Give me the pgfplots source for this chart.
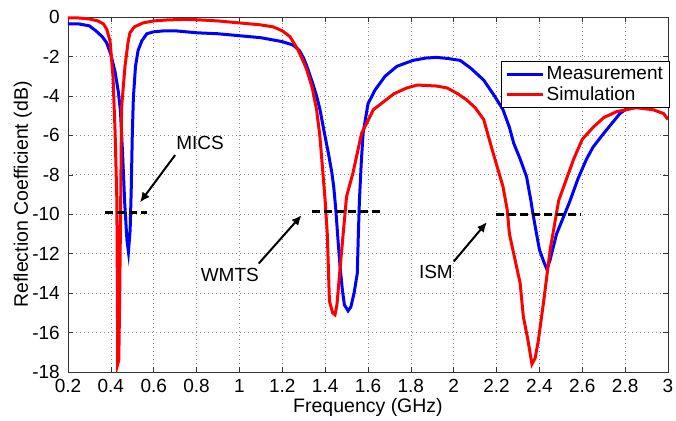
\documentclass[border=0pt]{standalone}
\usepackage{pgfplots}
\pgfplotsset{compat=1.18}
\usepackage{fontspec}
\setmainfont{Liberation Sans}
\usetikzlibrary{arrows.meta}
\newcommand{\fs}[1]{\fontsize{#1}{1.15\dimexpr#1\relax}\selectfont}
\begin{document}
\begin{tikzpicture}
\begin{axis}[
  scale only axis, width=600bp, height=355bp,
  xmin=0.2, xmax=3, ymin=-18, ymax=0,
  xtick={0.2,0.4,0.6,0.8,1,1.2,1.4,1.6,1.8,2,2.2,2.4,2.6,2.8,3},
  xticklabels={0.2,0.4,0.6,0.8,1,1.2,1.4,1.6,1.8,2,2.2,2.4,2.6,2.8,3},
  ytick={-18,-16,-14,-12,-10,-8,-6,-4,-2,0},
  yticklabels={-18,-16,-14,-12,-10,-8,-6,-4,-2,0},
  tick align=inside, xtick pos=both, ytick pos=both,
  major tick length=5bp,
  tick style={black!80, line width=0.5bp},
  axis line style={black!80, line width=0.6bp},
  grid=major,
  major grid style={black!45, line width=0.6bp, dash pattern=on 1bp off 3bp},
  ticklabel style={font=\fs{19bp}, inner sep=1bp},
  /pgf/number format/assume math mode=true,
  xticklabel style={yshift=-6bp},
  yticklabel style={xshift=-7bp},
  xlabel={Frequency (GHz)},
  ylabel={Reflection Coefficient (dB)},
  every axis x label/.style={font=\fs{19.5bp}, at={(rel axis cs:0.5,0)}, anchor=base, yshift=-40bp},
  every axis y label/.style={font=\fs{19.5bp}, at={(rel axis cs:0,0.5)}, xshift=-40bp, rotate=90, anchor=base},
  legend style={at={(rel axis cs:1.002,0.876)}, anchor=north east, draw=black, line width=0.6bp,
    font=\fs{19bp}, inner xsep=4bp, inner ysep=3.5bp, row sep=1.5bp, fill=white},
  legend cell align=left,
  legend image code/.code={\draw[#1] (0bp,0bp) -- (36bp,0bp);},
  clip=true,
]
\addplot[blue, line width=3bp] coordinates {
(0.20,-0.35)(0.25,-0.35)(0.30,-0.45)(0.33,-0.7)(0.36,-1.0)(0.38,-1.3)(0.40,-1.9)
(0.42,-2.8)(0.435,-3.8)(0.445,-4.8)(0.455,-7.0)(0.465,-9.5)(0.475,-11.3)(0.482,-11.9)
(0.49,-10.8)(0.495,-8.8)(0.50,-6.0)(0.505,-4.1)(0.515,-2.5)(0.527,-1.7)(0.545,-1.2)
(0.568,-0.85)(0.60,-0.75)(0.65,-0.7)(0.70,-0.7)(0.80,-0.8)(0.90,-0.85)(1.00,-0.95)
(1.10,-1.05)(1.20,-1.25)(1.25,-1.42)(1.28,-1.7)(1.30,-2.1)(1.315,-2.5)(1.34,-3.3)
(1.36,-4.0)(1.376,-4.7)(1.395,-5.8)(1.415,-6.9)(1.43,-7.8)(1.44,-8.6)(1.45,-9.8)
(1.46,-11.3)(1.47,-12.7)(1.48,-13.8)(1.49,-14.6)(1.507,-14.9)(1.52,-14.7)(1.535,-14.0)
(1.55,-13.0)(1.555,-11.0)(1.56,-9.3)(1.568,-7.5)(1.577,-5.9)(1.60,-4.4)(1.633,-3.7)
(1.68,-3.0)(1.735,-2.5)(1.81,-2.2)(1.87,-2.08)(1.92,-2.05)(1.97,-2.1)(2.03,-2.2)
(2.08,-2.6)(2.14,-3.2)(2.19,-4.0)(2.23,-4.7)(2.26,-5.6)(2.28,-6.4)(2.31,-7.2)
(2.34,-8.1)(2.36,-9.3)(2.37,-10.0)(2.40,-11.8)(2.42,-12.4)(2.435,-12.8)(2.45,-12.3)
(2.48,-11.0)(2.51,-10.2)(2.54,-9.4)(2.58,-8.2)(2.62,-7.2)(2.65,-6.6)(2.70,-5.9)
(2.775,-4.9)(2.85,-4.3)(2.92,-4.0)(3.0,-3.8)
};
\addlegendentry{Measurement}
\addplot[red, line width=3bp] coordinates {
(0.20,-0.05)(0.25,-0.05)(0.30,-0.1)(0.34,-0.2)(0.365,-0.35)(0.38,-0.6)(0.396,-1.2)
(0.41,-3.0)(0.42,-5.9)(0.428,-9.3)(0.43,-13)(0.432,-17.6)(0.437,-17.4)(0.441,-14.4)
(0.446,-9.3)(0.45,-4.6)(0.466,-2.5)(0.48,-1.3)(0.489,-0.8)(0.51,-0.5)(0.55,-0.3)
(0.60,-0.2)(0.66,-0.15)(0.75,-0.12)(0.82,-0.15)(0.90,-0.2)(1.00,-0.3)(1.10,-0.4)
(1.157,-0.5)(1.20,-0.7)(1.236,-1.0)(1.27,-1.6)(1.30,-2.3)(1.315,-2.7)(1.34,-3.6)
(1.36,-4.7)(1.375,-6.0)(1.385,-7.3)(1.40,-9.3)(1.41,-11.0)(1.42,-14.4)(1.435,-15.0)
(1.446,-15.1)(1.455,-14.6)(1.47,-12.7)(1.49,-10.3)(1.50,-9.1)(1.53,-7.9)(1.57,-5.9)
(1.625,-4.7)(1.72,-3.9)(1.78,-3.6)(1.83,-3.45)(1.92,-3.5)(1.97,-3.6)(2.02,-3.9)
(2.06,-4.2)(2.10,-4.6)(2.14,-5.2)(2.18,-6.75)(2.23,-8.6)(2.25,-9.8)(2.26,-11.0)
(2.29,-12.5)(2.31,-13.5)(2.325,-15.2)(2.345,-16.3)(2.365,-17.6)(2.38,-17.3)(2.395,-16.4)
(2.42,-14.4)(2.45,-11.8)(2.49,-9.3)(2.52,-8.4)(2.56,-7.2)(2.60,-6.2)(2.65,-5.6)
(2.70,-5.1)(2.76,-4.8)(2.85,-4.6)(2.93,-4.7)(2.98,-4.9)(3.0,-5.2)
};
\addlegendentry{Simulation}
\addplot[black, line width=3bp, dash pattern=on 8bp off 4bp, forget plot] coordinates {(0.375,-9.9)(0.57,-9.9)};
\addplot[black, line width=3bp, dash pattern=on 8bp off 4bp, forget plot] coordinates {(1.34,-9.85)(1.67,-9.85)};
\addplot[black, line width=3bp, dash pattern=on 8bp off 4bp, forget plot] coordinates {(2.195,-10.0)(2.59,-10.0)};
\draw[black, line width=2bp, -{Latex[length=10bp,width=9bp]}] (axis cs:0.70,-7.0) -- (axis cs:0.536,-9.4);
\draw[black, line width=2bp, -{Latex[length=10bp,width=9bp]}] (axis cs:1.09,-12.5) -- (axis cs:1.29,-10.05);
\draw[black, line width=2bp, -{Latex[length=10bp,width=9bp]}] (axis cs:2.0,-12.4) -- (axis cs:2.155,-10.4);
\node[font=\fs{19bp}] at (axis cs:0.816,-6.4) {MICS};
\node[font=\fs{19bp}] at (axis cs:0.955,-13.07) {WMTS};
\node[font=\fs{19bp}] at (axis cs:1.917,-12.92) {ISM};
\end{axis}
\path (current axis.south west) ++(-68bp,-49bp) rectangle ++(676bp,421bp);
\end{tikzpicture}
\end{document}
